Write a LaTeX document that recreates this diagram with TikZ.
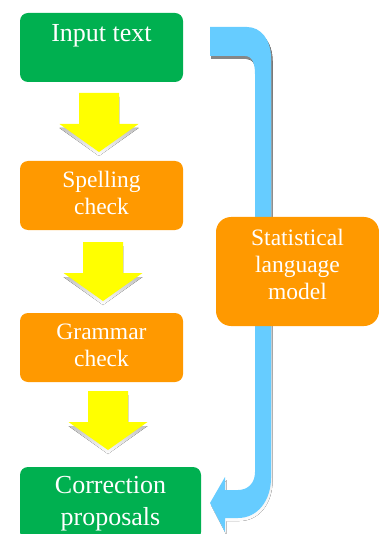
\documentclass[tikz,border=0pt]{standalone}
\usepackage{fontspec}
\setmainfont{Liberation Serif}
\definecolor{boxgreen}{HTML}{00B050}
\definecolor{boxorange}{HTML}{FF9900}
\definecolor{flowyellow}{HTML}{FFFF00}
\definecolor{loopblue}{HTML}{66CCFF}
\definecolor{shade}{HTML}{D4D4D4}

\begin{document}
\begin{tikzpicture}[x=1pt, y=-1pt]
\tikzset{ stage/.style={rectangle, rounded corners=8pt, inner sep=0pt, outer sep=0pt,
            text=white, align=center, minimum width=163pt, minimum height=69pt},
          bigtext/.style={font=\fontsize{26}{31.5}\selectfont},
          smalltext/.style={font=\fontsize{23.5}{27}\selectfont},
        }

\clip (0,0) rectangle (379,534);

% feedback arrow (model -> proposals)
\def\looppath{(210,27) -- (247,27) .. controls (261,27) and (271,40) .. (271,58)
  -- (271,478) .. controls (271,500) and (258,518) .. (238,518) -- (225,518)
  -- (225,532) -- (210,503) -- (225,477) -- (225,490) -- (238,490)
  .. controls (248,490) and (255,483) .. (255,472) -- (255,74)
  .. controls (255,63) and (252,56) .. (245,56) -- (210,56) -- cycle}
\fill [shade, shift={(1.5,3)}] \looppath;
\fill [loopblue] \looppath;

% yellow block arrows
\foreach \cx/\ty in {99/93, 103/242, 108/391}
{
  \fill [shade, shift={(0,4)}] (\cx-20,\ty) -- (\cx+20,\ty) -- (\cx+20,\ty+31) -- (\cx+39.5,\ty+31)
        -- (\cx,\ty+59) -- (\cx-39.5,\ty+31) -- (\cx-20,\ty+31) -- cycle;
  \fill [flowyellow] (\cx-20,\ty) -- (\cx+20,\ty) -- (\cx+20,\ty+31) -- (\cx+39.5,\ty+31)
        -- (\cx,\ty+59) -- (\cx-39.5,\ty+31) -- (\cx-20,\ty+31) -- cycle;
}

% text height/depth measured from the last baseline
\node [stage, fill=boxgreen, bigtext, text height=29pt, text depth=40pt] (input) at (101.5,47.5) {Input text};
\node [stage, fill=boxorange, smalltext, text height=53.3pt, text depth=15.7pt] (spelling) at (101.5,195.5) {Spelling\\check};
\node [stage, fill=boxorange, smalltext, text height=53.3pt, text depth=15.7pt] (grammar) at (101.5,347.5) {Grammar\\check};
\node [stage, fill=boxgreen, bigtext, minimum width=181pt, text height=58.3pt, text depth=14.7pt] (proposals) at (110.5,503.5) {Correction\\proposals};
\node [stage, fill=boxorange, smalltext, rounded corners=15pt, text height=82.3pt, text depth=26.7pt] (model) at (297.5,271.5) {Statistical\\language\\model};

\end{tikzpicture}
\end{document}
